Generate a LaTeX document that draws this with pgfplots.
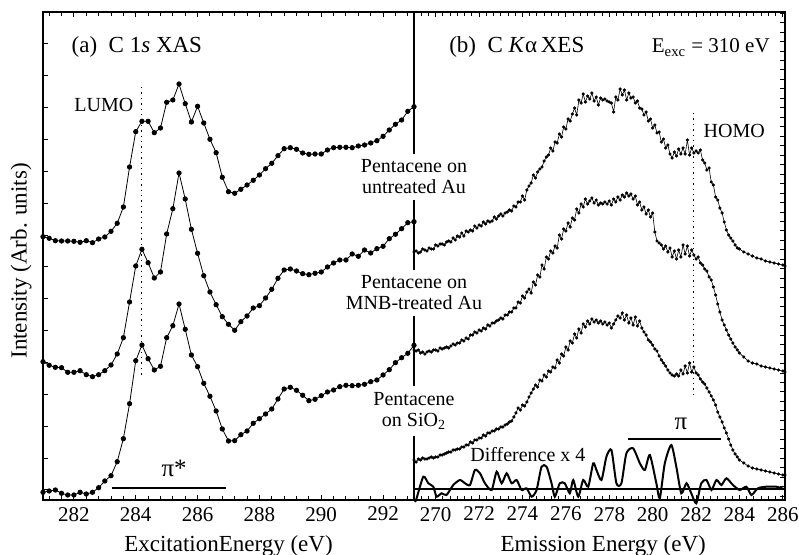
\documentclass[border=0pt]{standalone}
\usepackage{pgfplots}
\pgfplotsset{compat=1.18}
\usepackage{fontspec}
\setmainfont{Liberation Serif}
\begin{document}
\begin{tikzpicture}
\useasboundingbox (-21.5pt,-27.5pt) rectangle (378pt,250pt);
\pgfplotsset{
  common/.style={
    scale only axis, width=185.5pt, height=244pt,
    ymin=0, ymax=488, clip=false,
    tick align=inside, yticklabel=\empty,
    axis line style={line width=0.6pt},
    every tick/.style={line width=0.5pt},
    major tick length=2.6pt, minor tick length=2.2pt,
    tick label style={font=\fontsize{10.5}{12}\selectfont},
    /pgf/number format/assume math mode=true,
    label style={font=\fontsize{11.5}{13}\selectfont},
  }
}
% ---------------- left: XAS
\begin{axis}[common, at={(0pt,0pt)}, anchor=south west,
  xmin=281, xmax=293,
  xtick={282,284,...,292},
  minor xtick={281.2,281.6,...,292.9},
  ytick={10,41.87,...,489}, ytick pos=left,
  xlabel={ExcitationEnergy (eV)},
  xlabel style={at={(axis description cs:0.5,-0.106)}, anchor=base},
  ylabel={Intensity (Arb. units)},
  ylabel style={at={(axis description cs:-0.044,0.49)}, anchor=base},
]
\addplot[black, line width=0.4pt, mark=*, mark size=1.1pt] coordinates {
(281.0,263.3)(281.2,261.7)(281.4,259.3)(281.6,259.0)(281.8,259.0)(282.0,258.7)(282.2,257.7)(282.4,259.3)(282.6,257.3)(282.8,261)
(283.0,263)(283.2,268.7)(283.4,276.7)(283.6,293)(283.8,333)(284.0,368.3)(284.2,378.7)(284.4,378.7)(284.6,367.3)(284.8,372)
(285.0,397.7)(285.2,400)(285.4,416)(285.6,396.3)(285.8,378)(286.0,393.7)(286.2,377)(286.4,360.7)(286.6,347.3)(286.8,322.7)
(287.0,308.3)(287.2,306.7)(287.4,310.7)(287.6,315)(287.8,319.7)(288.0,325)(288.2,331.3)(288.4,336.7)(288.6,344.3)(288.8,351.3)
(289.0,352.3)(289.2,350.7)(289.4,347)(289.6,345.7)(289.8,346)(290.0,346)(290.2,350)(290.4,352.3)(290.6,352.7)(290.8,352.7)
(291.0,352.3)(291.2,354)(291.4,355)(291.6,357)(291.8,359.3)(292.0,363.7)(292.2,370)(292.4,375.7)(292.6,380)(292.8,388.7)(293.0,393.3)
};
\addplot[black, line width=0.4pt, mark=*, mark size=1.1pt] coordinates {
(281.0,138.3)(281.2,134.7)(281.4,132.7)(281.6,132.3)(281.8,127.7)(282.0,127.7)(282.2,129.3)(282.4,125.3)(282.6,123.3)(282.8,125.3)
(283.0,129.3)(283.2,135)(283.4,146)(283.6,162.3)(283.8,198)(284.0,234)(284.2,250.7)(284.4,237.3)(284.6,222)(284.8,228)
(285.0,266)(285.2,291.3)(285.4,327)(285.6,301)(285.8,270.7)(286.0,246.7)(286.2,224.3)(286.4,208)(286.6,195.3)(286.8,183.3)
(287.0,175.7)(287.2,169.7)(287.4,178.3)(287.6,184)(287.8,192)(288.0,194.3)(288.2,202)(288.4,210.7)(288.6,221.7)(288.8,230)
(289.0,231)(289.2,229)(289.4,226.3)(289.6,225.3)(289.8,226.7)(290.0,228)(290.2,233)(290.4,237)(290.6,240)(290.8,240)
(291.0,246)(291.2,243.7)(291.4,250)(291.6,247)(291.8,251.3)(292.0,253.7)(292.2,261.3)(292.4,265.7)(292.6,271.3)(292.8,277.3)(293.0,278.3)
};
\addplot[black, line width=0.4pt, mark=*, mark size=1.1pt] coordinates {
(281.0,7.7)(281.2,9)(281.4,10)(281.6,6.7)(281.8,5)(282.0,5)(282.2,7.7)(282.4,6)(282.6,7.7)(282.8,12.3)
(283.0,19)(283.2,24.3)(283.4,38.3)(283.6,61.3)(283.8,96.3)(284.0,139.3)(284.2,155)(284.4,141.3)(284.6,130)(284.8,133.7)
(285.0,162.3)(285.2,174.3)(285.4,196)(285.6,170.7)(285.8,145)(286.0,133.3)(286.2,116.7)(286.4,103.7)(286.6,89)(286.8,71)
(287.0,59)(287.2,59.3)(287.4,65.3)(287.6,69)(287.8,76.7)(288.0,81.3)(288.2,86)(288.4,91)(288.6,101)(288.8,111)
(289.0,112.7)(289.2,109.7)(289.4,104.7)(289.6,99.3)(289.8,100.7)(290.0,104.3)(290.2,108)(290.4,110)(290.6,113.3)(290.8,114.7)
(291.0,114.3)(291.2,114.7)(291.4,115.7)(291.6,118.3)(291.8,120)(292.0,125)(292.2,130.3)(292.4,137.3)(292.6,142.3)(292.8,146.7)(293.0,154.7)
};
% pi* bar
\addplot[black, line width=0.9pt] coordinates {(283.22,11.7) (286.93,11.7)};
\node[anchor=base, font=\fontsize{12.5}{14}\selectfont] at (axis cs:285.24,23.3) {π*};
% LUMO
\addplot[black, dotted, line width=0.7pt] coordinates {(284.18,413) (284.18,122)};
\node[anchor=base, font=\fontsize{10}{11}\selectfont] at (axis cs:282.97,388) {LUMO};
\node[anchor=base west, font=\fontsize{11.5}{13}\selectfont] at (axis cs:281.7,447) {(a)\ \ C 1\textit{s} XAS};
\end{axis}
% ---------------- right: XES
\begin{axis}[common, at={(185.5pt,0pt)}, anchor=south west,
  xmin=269, xmax=286.1,
  xtick={270,272,...,286},
  minor xtick={269.3333,269.6667,...,286.05},
  ytick={3.85,13.32,...,488}, ytick pos=right,
  xlabel={Emission Energy (eV)},
  xlabel style={at={(axis description cs:0.51,-0.106)}, anchor=base},
]
\addplot[black, line width=0.3pt, mark=*, mark size=0.65pt] coordinates {
(269.0,248)(269.1,249)(269.2,247)(269.3,248)(269.4,251)(269.5,250)(269.6,249)(269.7,252)(269.8,251)(269.9,251)
(270.0,255)(270.1,254)(270.2,256)(270.3,256)(270.4,255)(270.5,258)(270.6,259)(270.7,258)(270.8,262)(270.9,260)
(271.0,264)(271.1,263)(271.2,267)(271.3,264)(271.4,269)(271.5,268)(271.6,270)(271.7,269)(271.8,274)(271.9,272)
(272.0,275)(272.1,274)(272.2,278)(272.3,276)(272.4,279)(272.5,278)(272.6,279)(272.7,283)(272.8,281)(272.9,284)
(273.0,286)(273.1,284)(273.2,287)(273.3,288)(273.4,290)(273.5,289)(273.6,294)(273.7,293)(273.8,298)(273.9,298)
(274.0,304)(274.1,300)(274.2,310)(274.3,314)(274.4,317)(274.5,325)(274.6,322)(274.7,328)(274.8,331)(274.9,333)
(275.0,339)(275.1,343)(275.2,345)(275.3,352)(275.4,349)(275.5,358)(275.6,357)(275.7,366)(275.8,363)(275.9,373)
(276.0,371)(276.1,381)(276.2,379)(276.3,386)(276.4,392)(276.5,385)(276.6,400)(276.7,397)(276.8,406)(276.9,398)
(277.0,404)(277.1,401)(277.2,407)(277.3,399)(277.4,403)(277.5,395)(277.6,402)(277.7,400)(277.8,401)(277.9,399)
(278.0,398)(278.1,397)(278.2,388)(278.3,403)(278.4,400)(278.5,411)(278.6,405)(278.7,410)(278.8,400)(278.9,407)
(279.0,402)(279.1,403)(279.2,397)(279.3,399)(279.4,392)(279.5,391)(279.6,385)(279.7,388)(279.8,379)(279.9,381)
(280.0,372)(280.1,375)(280.2,367)(280.3,368)(280.4,358)(280.5,361)(280.6,352)(280.7,355)(280.8,346)(280.9,342)
(281.0,348)(281.1,344)(281.2,351)(281.3,346)(281.4,352)(281.5,346)(281.6,360)(281.7,345)(281.8,352)(281.9,347)
(282.0,349)(282.1,347)(282.2,350)(282.3,340)(282.4,337)(282.5,330)(282.6,332)(282.7,318)(282.8,315)(282.9,303)
(283.0,300)(283.1,292)(283.2,287)(283.3,278)(283.4,270)(283.5,265)(283.6,262)(283.7,259)(283.8,255)(283.9,252)
(284.0,251)(284.2,248)(284.4,246)(284.6,244)(284.8,242)(285.0,241)(285.2,239)(285.4,238)(285.6,237)(285.8,236)(286.0,235)(286.1,234)
};
\addplot[black, line width=0.3pt, mark=*, mark size=0.65pt] coordinates {
(269.0,150)(269.1,149)(269.2,150)(269.3,147)(269.4,148)(269.5,146)(269.6,148)(269.7,149)(269.8,148)(269.9,150)
(270.0,150)(270.1,149)(270.2,152)(270.3,151)(270.4,152)(270.5,153)(270.6,152)(270.7,154)(270.8,156)(270.9,155)
(271.0,157)(271.1,157)(271.2,160)(271.3,159)(271.4,162)(271.5,161)(271.6,165)(271.7,165)(271.8,168)(271.9,167)
(272.0,170)(272.1,169)(272.2,172)(272.3,171)(272.4,175)(272.5,174)(272.6,177)(272.7,177)(272.8,179)(272.9,180)
(273.0,182)(273.1,181)(273.2,185)(273.3,185)(273.4,188)(273.5,188)(273.6,192)(273.7,192)(273.8,198)(273.9,197)
(274.0,204)(274.1,202)(274.2,208)(274.3,211)(274.4,207)(274.5,218)(274.6,215)(274.7,225)(274.8,223)(274.9,235)
(275.0,231)(275.1,243)(275.2,241)(275.3,249)(275.4,247)(275.5,254)(275.6,252)(275.7,265)(275.8,261)(275.9,271)
(276.0,269)(276.1,277)(276.2,273)(276.3,282)(276.4,280)(276.5,291)(276.6,287)(276.7,296)(276.8,293)(276.9,301)
(277.0,296)(277.1,299)(277.2,302)(277.3,297)(277.4,300)(277.5,295)(277.6,297)(277.7,296)(277.8,298)(277.9,296)
(278.0,299)(278.1,295)(278.2,301)(278.3,298)(278.4,303)(278.5,300)(278.6,305)(278.7,303)(278.8,307)(278.9,304)
(279.0,306)(279.1,301)(279.2,304)(279.3,295)(279.4,298)(279.5,290)(279.6,293)(279.7,286)(279.8,290)(279.9,283)
(280.0,287)(280.1,268)(280.2,259)(280.3,257)(280.4,255)(280.5,251)(280.6,254)(280.7,248)(280.8,252)(280.9,243)
(281.0,249)(281.1,241)(281.2,250)(281.3,243)(281.4,255)(281.5,246)(281.6,254)(281.7,244)(281.8,250)(281.9,245)
(282.0,241)(282.1,243)(282.2,237)(282.3,235)(282.4,231)(282.5,229)(282.6,223)(282.7,220)(282.8,213)(282.9,205)
(283.0,196)(283.1,188)(283.2,180)(283.3,175)(283.4,170)(283.5,165)(283.6,161)(283.7,157)(283.8,153)(283.9,150)
(284.0,147)(284.2,143)(284.4,139)(284.6,137)(284.8,136)(285.0,134)(285.2,133)(285.4,132)(285.6,131)(285.8,130)(286.0,129)(286.1,128)
};
\addplot[black, line width=0.3pt, mark=*, mark size=0.65pt] coordinates {
(269.0,40)(269.1,38)(269.2,41)(269.3,40)(269.4,42)(269.5,41)(269.6,41)(269.7,42)(269.8,43)(269.9,42)
(270.0,43)(270.1,43)(270.2,45)(270.3,45)(270.4,46)(270.5,47)(270.6,48)(270.7,48)(270.8,50)(270.9,50)
(271.0,51)(271.1,51)(271.2,53)(271.3,53)(271.4,55)(271.5,55)(271.6,58)(271.7,57)(271.8,60)(271.9,60)
(272.0,62)(272.1,62)(272.2,65)(272.3,64)(272.4,67)(272.5,67)(272.6,69)(272.7,69)(272.8,71)(272.9,71)
(273.0,73)(273.1,73)(273.2,75)(273.3,76)(273.4,78)(273.5,79)(273.6,83)(273.7,87)(273.8,92)(273.9,90)
(274.0,95)(274.1,94)(274.2,98)(274.3,103)(274.4,107)(274.5,111)(274.6,115)(274.7,113)(274.8,120)(274.9,119)
(275.0,125)(275.1,123)(275.2,129)(275.3,128)(275.4,133)(275.5,132)(275.6,140)(275.7,137)(275.8,146)(275.9,144)
(276.0,153)(276.1,150)(276.2,159)(276.3,157)(276.4,166)(276.5,162)(276.6,171)(276.7,167)(276.8,176)(276.9,173)
(277.0,179)(277.1,176)(277.2,181)(277.3,178)(277.4,180)(277.5,177)(277.6,179)(277.7,176)(277.8,178)(277.9,175)
(278.0,177)(278.1,172)(278.2,176)(278.3,180)(278.4,184)(278.5,182)(278.6,187)(278.7,180)(278.8,185)(278.9,177)
(279.0,182)(279.1,175)(279.2,183)(279.3,174)(279.4,179)(279.5,172)(279.6,168)(279.7,165)(279.8,160)(279.9,158)
(280.0,155)(280.1,151)(280.2,149)(280.3,144)(280.4,140)(280.5,137)(280.6,134)(280.7,130)(280.8,127)(280.9,125)
(281.0,124)(281.1,126)(281.2,124)(281.3,130)(281.4,126)(281.5,134)(281.6,127)(281.7,137)(281.8,128)(281.9,133)
(282.0,127)(282.1,125)(282.2,121)(282.3,118)(282.4,116)(282.5,112)(282.6,108)(282.7,104)(282.8,100)(282.9,95)
(283.0,88)(283.1,83)(283.2,78)(283.3,72)(283.4,67)(283.5,61)(283.6,55)(283.7,50)(283.8,46)(283.9,43)
(284.0,40)(284.2,37)(284.4,34)(284.6,32)(284.8,31)(285.0,30)(285.2,29)(285.4,28)(285.6,27)(285.8,26)(286.0,25)(286.1,25)
};
% difference x 4
\addplot[black, line width=0.8pt] coordinates {(269,10.7) (286.1,10.7)};
\addplot[black, line width=1pt, smooth, tension=0.4] coordinates {
(269.05,-2)(269.12,1.7)(269.43,23.3)(269.66,16.7)(269.89,13.3)(270.04,3.3)(270.27,6.7)(270.50,5)(270.81,15)(271.12,20)
(271.35,16.7)(271.58,15)(271.81,30)(272.04,26.7)(272.27,16.7)(272.58,10)(272.81,28.3)(273.04,16.7)(273.27,26.7)(273.50,16.7)
(273.73,20)(273.96,10)(274.19,11.7)(274.42,3.3)(274.65,10)(274.88,33.3)(275.11,33.3)(275.34,16.7)(275.49,3.3)(275.72,16.7)
(275.95,16.7)(276.18,6.7)(276.34,20)(276.57,3.3)(276.80,20)(277.03,13.3)(277.26,36.7)(277.41,30)(277.64,20)(277.87,43.3)
(278.10,50)(278.33,16.7)(278.56,16.7)(278.79,46.7)(279.10,51.7)(279.41,36.7)(279.64,30)(279.87,45)(280.17,16.7)(280.33,1.7)
(280.56,36.7)(280.86,55)(281.09,33.3)(281.32,6.7)(281.56,16.7)(281.78,6.7)(282.01,-3.3)(282.24,16.7)(282.48,20)(282.71,10)
(282.94,20)(283.17,15)(283.40,21.7)(283.70,15)(284.01,10)(284.32,13.3)(284.55,5)(284.85,11.7)(285.24,13.3)(285.70,13.3)(286.08,10.7)
};
\node[anchor=base, font=\fontsize{10}{11}\selectfont] at (axis cs:274.25,38.3) {Difference x 4};
% pi bar
\addplot[black, line width=0.9pt] coordinates {(278.87,61) (283.17,61)};
\node[anchor=base, font=\fontsize{12.5}{14}\selectfont] at (axis cs:281.3,70) {π};
% HOMO
\addplot[black, dotted, line width=0.7pt] coordinates {(281.89,387) (281.89,102)};
\node[anchor=base, font=\fontsize{10}{11}\selectfont] at (axis cs:283.76,362) {HOMO};
\node[anchor=base west, font=\fontsize{11.5}{13}\selectfont] at (axis cs:270.3,447) {(b)\ \ C \textit{K}α\,XES};
\node[anchor=base west, font=\fontsize{10.5}{12}\selectfont] at (axis cs:279.64,447) {E\textsubscript{exc} = 310 eV};
\end{axis}
% divider and sample labels
\draw[line width=1pt] (185.5pt,0pt) -- (185.5pt,244pt);
\begin{scope}[every node/.style={fill=white, align=center, inner sep=3pt, font=\fontsize{10}{10.5}\selectfont}]
\node at (185.5pt,161.5pt) {Pentacene on\\untreated Au};
\node at (185.5pt,103.5pt) {Pentacene on\\MNB-treated Au};
\node at (185.5pt,44.5pt) {Pentacene\\on SiO\textsubscript{2}};
\end{scope}
\end{tikzpicture}
\end{document}
